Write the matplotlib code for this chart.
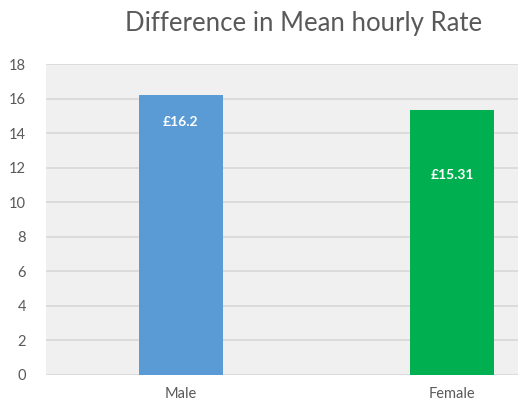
import matplotlib
matplotlib.use("Agg")
import matplotlib.pyplot as plt

# ── Datos ──────────────────────────────────────────────────────────────────────
categories = ["Male", "Female"]
rates = [16.2, 15.31]
bar_labels = ["£16.2", "£15.31"]
bar_colors = ["#5b9bd5", "#00b050"]
label_drop_px = [27, 65]  # distance of each data label below its bar top
yticks = [0, 2, 4, 6, 8, 10, 12, 14, 16, 18]

TEXT = "#595959"
plt.rcParams["font.family"] = ["Lato", "DejaVu Sans"]

fig = plt.figure(figsize=(5.18, 4.08), dpi=100)
# plot area runs past the right edge, as in the cropped original
ax = fig.add_axes([45.5 / 518, 33 / 408, 542 / 518, 311 / 408])
ax.set_facecolor("#f0f0f0")

x = list(range(len(categories)))
bars = ax.bar(x, rates, width=0.31, color=bar_colors, zorder=3)

for bar, lab, drop in zip(bars, bar_labels, label_drop_px):
    ax.annotate(lab, (bar.get_x() + bar.get_width() / 2, bar.get_height()),
                xytext=(0, -drop * 0.72), textcoords="offset points",
                ha="center", va="center", color="white",
                fontsize=10, fontweight="bold", zorder=4)

ax.set_xlim(-0.5, 1.5)
ax.set_ylim(0, 18)
ax.set_yticks(yticks)
ax.set_xticks(x)
ax.set_xticklabels(categories)
ax.yaxis.grid(True, color="#d9d9d9", linewidth=1.3, zorder=0)
ax.tick_params(length=0, colors=TEXT, labelsize=10.5)
ax.tick_params(axis="y", pad=14)
ax.tick_params(axis="x", pad=9)
for s in ax.spines.values():
    s.set_visible(False)

fig.text(304 / 518, 1 - 23 / 408, "Difference in Mean hourly Rate",
         ha="center", va="center", fontsize=18.5, color=TEXT)

fig.savefig("out.png", dpi=100)
